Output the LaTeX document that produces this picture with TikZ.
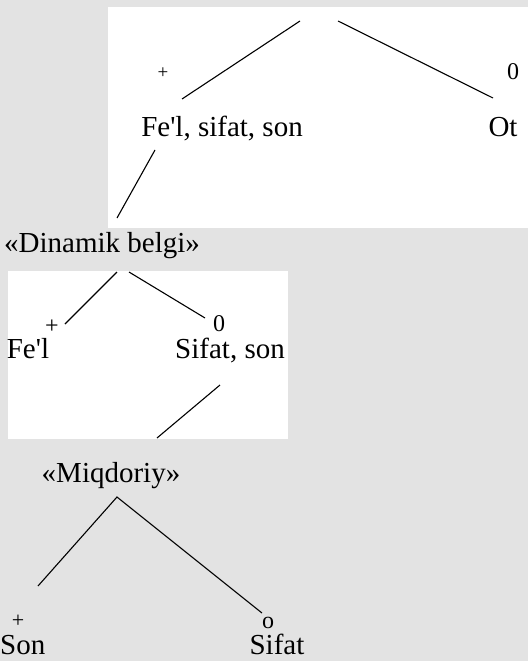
\documentclass[tikz,border=0pt]{standalone}
\usepackage{fontspec}
\setmainfont{Liberation Serif}
\definecolor{scan}{gray}{0.89}
\tikzset{
  lbl/.style={inner sep=0pt, anchor=base, font=\fontsize{29}{32}\selectfont},
  sgn/.style={inner sep=0pt, anchor=base, font=\fontsize{24}{26}\selectfont},
  edge/.style={line width=1.1pt, black}
}
\begin{document}
\begin{tikzpicture}[x=1pt,y=-1pt]
\useasboundingbox (0,0) rectangle (528,661);
\fill[scan] (0,0) rectangle (528,661);
\fill[white] (108,7) rectangle (528,228);
\fill[white] (8,271) rectangle (288,439);
% top level
\coordinate (r1) at (300,21);
\coordinate (r2) at (338,21);
\coordinate (a1) at (182,99);
\coordinate (b1) at (493,98);
\node[sgn, font=\fontsize{19}{21}\selectfont] (p1) at (163,78) {+};
\node[sgn] (z1) at (513,79) {0};
\node[lbl] (fss) at (222,136) {Fe\textquotesingle l, sifat, son};
\node[lbl] (ot) at (503,136) {Ot};
\draw[edge] (r1) -- (a1);
\draw[edge] (r2) -- (b1);
% second level
\coordinate (c1) at (155,150);
\coordinate (c2) at (117,218);
\draw[edge] (c1) -- (c2);
\node[lbl] (din) at (102,252) {«Dinamik belgi»};
\coordinate (d1) at (117,272);
\coordinate (d2) at (129,272);
\coordinate (d3) at (65,324);
\coordinate (d4) at (205,318);
\draw[edge] (d1) -- (d3);
\draw[edge] (d2) -- (d4);
\node[sgn] (p2) at (52,333) {+};
\node[sgn] (z2) at (219,331) {0};
\node[lbl] (fel) at (28,358) {Fe\textquotesingle l};
\node[lbl] (ss) at (230,358) {Sifat, son};
% third level
\coordinate (e1) at (220,385);
\coordinate (e2) at (157,438);
\draw[edge] (e1) -- (e2);
\node[lbl] (miq) at (111,482) {«Miqdoriy»};
\coordinate (f0) at (117,497);
\coordinate (f1) at (38,586);
\coordinate (f2) at (262,613);
\draw[edge] (f1) -- (f0) -- (f2);
\node[sgn, font=\fontsize{22}{24}\selectfont] (p3) at (18,627) {+};
\node[sgn] (z3) at (268,628) {o};
\node[lbl, anchor=base west] (son) at (0,654) {Son};
\node[lbl] (sif) at (277,654) {Sifat};
\end{tikzpicture}
\end{document}
